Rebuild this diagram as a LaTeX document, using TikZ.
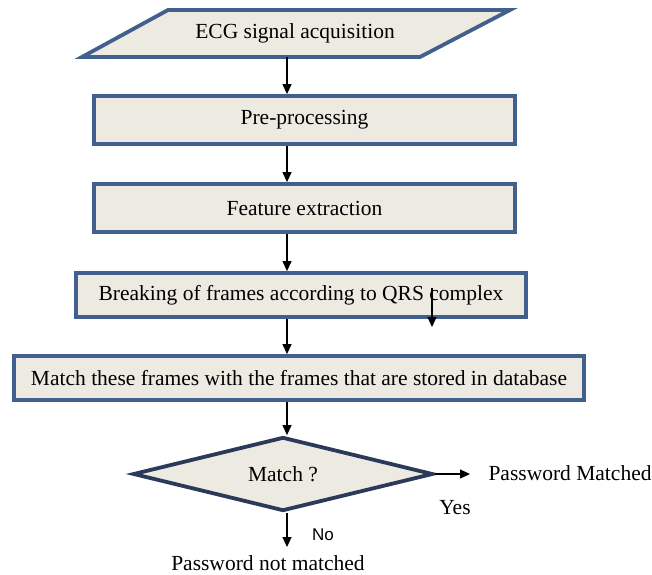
\documentclass[tikz,border=0pt]{standalone}
\usepackage{fontspec}
\setmainfont{Liberation Serif}
\newfontfamily\labelfont{Liberation Sans}
\usepackage{xcolor}
\usetikzlibrary{shapes.geometric, positioning, arrows.meta}

\definecolor{boxfill}{RGB}{237,234,226}
\definecolor{boxline}{RGB}{66,96,142}
\definecolor{decline}{RGB}{42,58,88}

\begin{document}
\begin{tikzpicture}[x=1pt, y=1pt, font=\fontsize{21.5}{24}\selectfont,
    procbox/.style={draw=boxline, fill=boxfill, line width=3.8pt, minimum height=44pt},
    decbox/.style={diamond, draw=decline, fill=boxfill, line width=3.8pt, aspect=4,
      minimum width=300pt, minimum height=74pt, inner sep=0pt},
    flow/.style={-{Triangle[length=10pt,width=9pt]}, line width=1.1pt}]
       \useasboundingbox (0,0) rectangle (652,574);

       % input block
       \draw[boxline, fill=boxfill, line width=3.8pt]
         (168,564) -- (510,564) -- (420,517) -- (82,517) -- cycle;
       \node[minimum height=47pt, inner sep=0pt] (acq) at (295,540.5) {ECG signal acquisition};

       \node[procbox, minimum width=421pt, minimum height=48pt] (pre) at (304.5,454) {Pre-processing};
       \node[procbox, minimum width=421pt, minimum height=48pt] (feat) at (304.5,366) {Feature extraction};
       \node[procbox, minimum width=450pt] (frames) at (301,279) {Breaking of frames according to QRS complex};
       \node[procbox, minimum width=570pt] (dbmatch) at (299,196) {Match these frames with the frames that are stored in database};
       \node[decbox] (dec) at (283,100) {Match ?};

       \coordinate (spine) at (287,0);
       \coordinate (yesend) at (470,100);
       \coordinate (noend) at (287,27);
       \coordinate (qrs top) at (432,286);
       \coordinate (qrs tip) at (432,247);

       \node[anchor=west] (pwok) at (485,101) {Password Matched};
       \node (pwfail) at (268,11) {Password not matched};
       \node (yes) at (455,66) {Yes};
       \node[font=\labelfont\fontsize{17}{20}\selectfont] (no) at (323,39) {No};

       \path[flow]
       (acq.south -| spine) edge (pre.north -| spine)
       (pre.south -| spine) edge (feat.north -| spine)
       (feat.south -| spine) edge (frames.north -| spine)
       (frames.south -| spine) edge (dbmatch.north -| spine)
       (dbmatch.south -| spine) edge (dec.north -| spine)
       (dec.east) edge (yesend)
       (dec.south -| spine) edge (noend)
       (qrs top) edge (qrs tip);
    \end{tikzpicture}
\end{document}
